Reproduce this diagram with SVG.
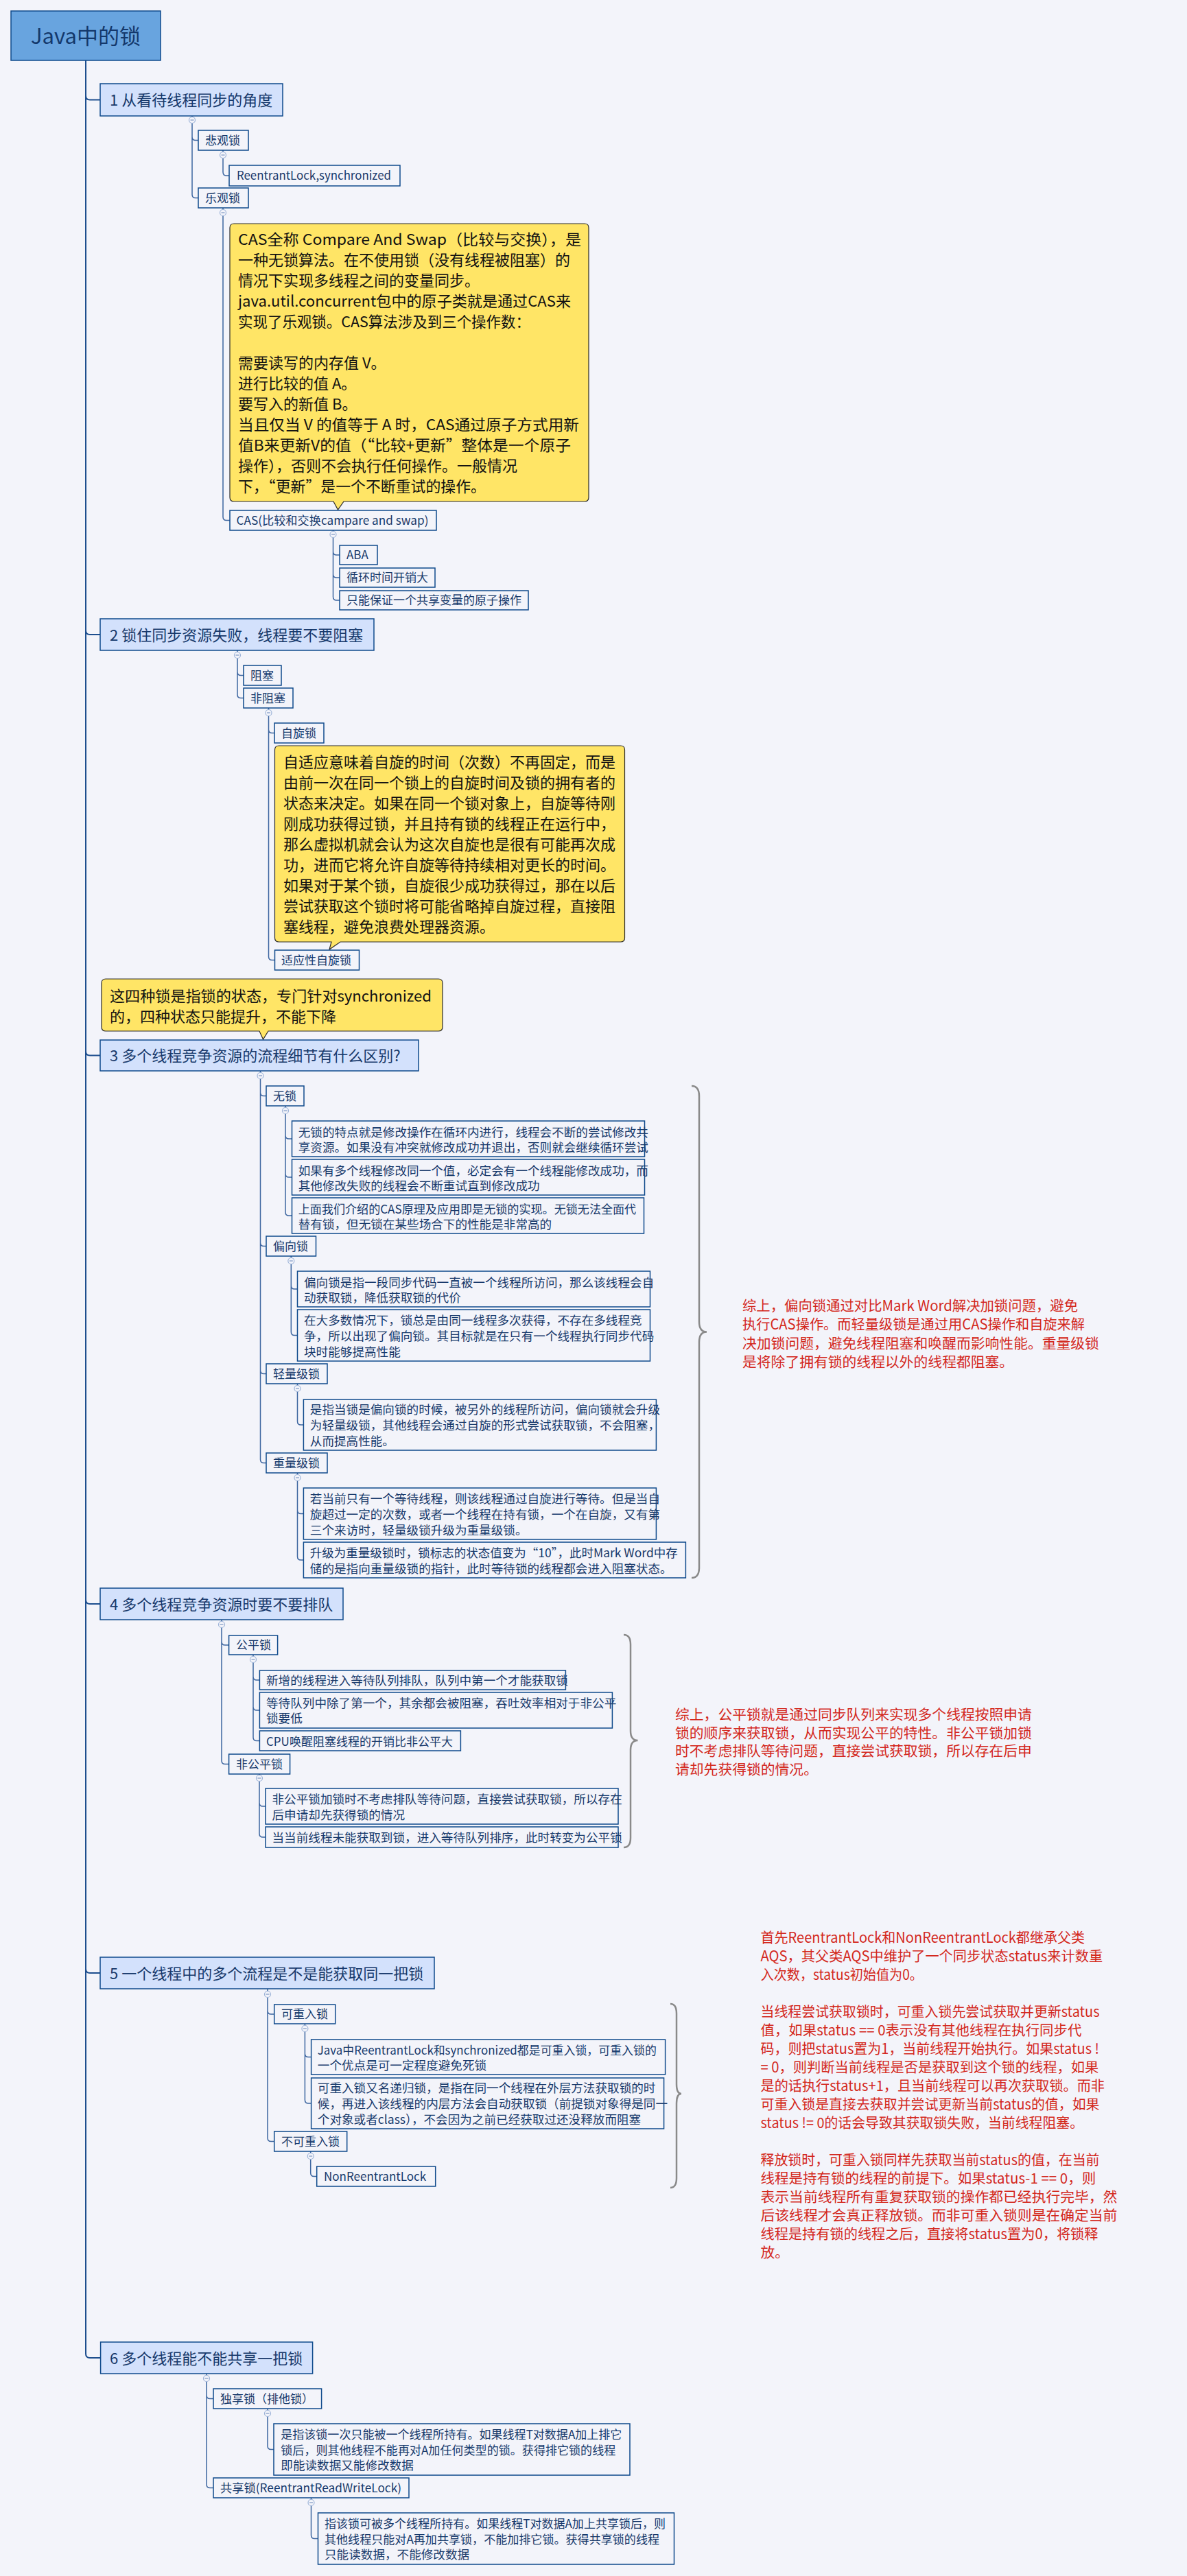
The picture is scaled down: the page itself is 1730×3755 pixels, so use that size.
<svg xmlns="http://www.w3.org/2000/svg" width="1730" height="3755" viewBox="0 0 1730 3755">
<style>
text{font-family:"Noto Sans CJK SC","Microsoft YaHei","Noto Sans",sans-serif;}
.tt{font-size:31px;fill:#14386b;}
.st{font-size:22px;fill:#17396b;}
.nt{font-size:17px;fill:#17396b;}
.dt{font-size:17.6px;fill:#17396b;}
.yt{font-size:22px;fill:#111;}
.rt{font-size:20.8px;fill:#d3281d;}
.box{fill:#f3f4fa;stroke:#0f4a8c;stroke-width:1.5;}
.sec{fill:#d3e1fc;stroke:#0f4a8c;stroke-width:1.5;}
.ttl{fill:#68a4df;stroke:#0f4a8c;stroke-width:1.5;}
.note{fill:#ffe566;stroke:#2a2a2a;stroke-width:1.2;}
.c{fill:none;stroke:#3d66a0;stroke-width:1.5;}
.trunk{fill:none;stroke:#1d4e8e;stroke-width:2;}
.col{fill:#f3f4fa;stroke:#9cb3d8;stroke-width:1.2;}
.colm{stroke:#7f98c4;stroke-width:1.2;}
.brace{fill:none;stroke:#8a8a8a;stroke-width:2.5;}
</style>
<rect x="0" y="0" width="1730" height="3755" fill="#f3f4fa"/>

<g id="connectors">
<path class="trunk" d="M125,88 V3431 Q125,3437 131,3437 H146.6"/>
<path class="trunk" d="M125,139.5 Q125,145.5 131,145.5 H146"/>
<path class="trunk" d="M125,919 Q125,925 131,925 H146"/>
<path class="trunk" d="M125,1532.5 Q125,1538.5 131,1538.5 H146"/>
<path class="trunk" d="M125,2332 Q125,2338 131,2338 H146"/>
<path class="trunk" d="M125,2870 Q125,2876 131,2876 H146"/>
<path class="c" d="M280,169 V170.5 M280,179.5 V283.5 Q280,288.5 285,288.5 H289 M280,199.5 Q280,204.5 285,204.5 H289"/>
<path class="c" d="M325,219 V221.5 M325,230.5 V251 Q325,256 330,256 H334"/>
<path class="c" d="M325,303 V305.5 M325,314.5 V753.5 Q325,758.5 330,758.5 H335"/>
<path class="c" d="M485.5,773 V774.5 M485.5,783.5 V870 Q485.5,875 490.5,875 H495 M485.5,804 Q485.5,809 490.5,809 H495 M485.5,837 Q485.5,842 490.5,842 H495"/>
<path class="c" d="M346,948 V950.5 M346,959.5 V1012.5 Q346,1017.5 351,1017.5 H355 M346,979.5 Q346,984.5 351,984.5 H355"/>
<path class="c" d="M391.5,1032 V1034.5 M391.5,1043.5 V1394.5 Q391.5,1399.5 396.5,1399.5 H400.5 M391.5,1063.5 Q391.5,1068.5 396.5,1068.5 H400"/>
<path class="c" d="M379.5,1561 V1563.5 M379.5,1572.5 V2127.5 Q379.5,2132.5 384.5,2132.5 H388 M379.5,1592.5 Q379.5,1597.5 384.5,1597.5 H388 M379.5,1811.5 Q379.5,1816.5 384.5,1816.5 H388 M379.5,1997.5 Q379.5,2002.5 384.5,2002.5 H388"/>
<path class="c" d="M416,1612 V1614.5 M416,1623.5 V1767 Q416,1772 421,1772 H425.5 M416,1655 Q416,1660 421,1660 H425.5 M416,1711 Q416,1716 421,1716 H425.5"/>
<path class="c" d="M424.3,1831 V1833.5 M424.3,1842.5 V1941.5 Q424.3,1946.5 429.3,1946.5 H433.5 M424.3,1874 Q424.3,1879 429.3,1879 H433.5"/>
<path class="c" d="M433.5,2017 V2019.5 M433.5,2028.5 V2072 Q433.5,2077 438.5,2077 H442.4"/>
<path class="c" d="M433.5,2147 V2149.5 M433.5,2158.5 V2269 Q433.5,2274 438.5,2274 H442.4 M433.5,2201.5 Q433.5,2206.5 438.5,2206.5 H442.4"/>
<path class="c" d="M323,2361 V2363.5 M323,2372.5 V2566.5 Q323,2571.5 328,2571.5 H333.6 M323,2393 Q323,2398 328,2398 H333.6"/>
<path class="c" d="M369,2412 V2414.5 M369,2423.5 V2532.5 Q369,2537.5 374,2537.5 H378.4 M369,2444 Q369,2449 374,2449 H378.4 M369,2488 Q369,2493 374,2493 H378.4"/>
<path class="c" d="M378,2586 V2587.5 M378,2596.5 V2673 Q378,2678 383,2678 H387 M378,2628 Q378,2633 383,2633 H387"/>
<path class="c" d="M390,2899 V2902.5 M390,2911.5 V3116.5 Q390,3121.5 395,3121.5 H399.7 M390,2931 Q390,2936 395,2936 H399.7"/>
<path class="c" d="M444.4,2950 V2952.5 M444.4,2961.5 V3061 Q444.4,3066 449.4,3066 H453.6 M444.4,2993.5 Q444.4,2998.5 449.4,2998.5 H453.6"/>
<path class="c" d="M452.7,3136 V3138.5 M452.7,3147.5 V3167.5 Q452.7,3172.5 457.7,3172.5 H461.7"/>
<path class="c" d="M301,3460 V3462.5 M301,3471.5 V3621.5 Q301,3626.5 306,3626.5 H311 M301,3491.5 Q301,3496.5 306,3496.5 H311"/>
<path class="c" d="M390,3511 V3513.5 M390,3522.5 V3565.5 Q390,3570.5 395,3570.5 H399"/>
<path class="c" d="M453.5,3641 V3643.5 M453.5,3652.5 V3695.5 Q453.5,3700.5 458.5,3700.5 H463.5"/>
</g>

<g id="collapse-markers">
<g><circle class="col" cx="280" cy="175" r="4.5"/><path class="colm" d="M277.5,175 H282.5"/></g>
<g><circle class="col" cx="325" cy="226" r="4.5"/><path class="colm" d="M322.5,226 H327.5"/></g>
<g><circle class="col" cx="325" cy="310" r="4.5"/><path class="colm" d="M322.5,310 H327.5"/></g>
<g><circle class="col" cx="485.5" cy="779" r="4.5"/><path class="colm" d="M483,779 H488"/></g>
<g><circle class="col" cx="346" cy="955" r="4.5"/><path class="colm" d="M343.5,955 H348.5"/></g>
<g><circle class="col" cx="391.5" cy="1039" r="4.5"/><path class="colm" d="M389,1039 H394"/></g>
<g><circle class="col" cx="379.5" cy="1568" r="4.5"/><path class="colm" d="M377,1568 H382"/></g>
<g><circle class="col" cx="416" cy="1619" r="4.5"/><path class="colm" d="M413.5,1619 H418.5"/></g>
<g><circle class="col" cx="424.3" cy="1838" r="4.5"/><path class="colm" d="M421.8,1838 H426.8"/></g>
<g><circle class="col" cx="433.5" cy="2024" r="4.5"/><path class="colm" d="M431,2024 H436"/></g>
<g><circle class="col" cx="433.5" cy="2154" r="4.5"/><path class="colm" d="M431,2154 H436"/></g>
<g><circle class="col" cx="323" cy="2368" r="4.5"/><path class="colm" d="M320.5,2368 H325.5"/></g>
<g><circle class="col" cx="369" cy="2419" r="4.5"/><path class="colm" d="M366.5,2419 H371.5"/></g>
<g><circle class="col" cx="378" cy="2592" r="4.5"/><path class="colm" d="M375.5,2592 H380.5"/></g>
<g><circle class="col" cx="390" cy="2907" r="4.5"/><path class="colm" d="M387.5,2907 H392.5"/></g>
<g><circle class="col" cx="444.4" cy="2957" r="4.5"/><path class="colm" d="M441.9,2957 H446.9"/></g>
<g><circle class="col" cx="452.7" cy="3143" r="4.5"/><path class="colm" d="M450.2,3143 H455.2"/></g>
<g><circle class="col" cx="301" cy="3467" r="4.5"/><path class="colm" d="M298.5,3467 H303.5"/></g>
<g><circle class="col" cx="390" cy="3518" r="4.5"/><path class="colm" d="M387.5,3518 H392.5"/></g>
<g><circle class="col" cx="453.5" cy="3648" r="4.5"/><path class="colm" d="M451,3648 H456"/></g>
</g>

<g id="n-title"><rect class="ttl" x="16" y="16" width="218" height="72"/><text class="tt" x="125" y="64" text-anchor="middle">Java中的锁</text></g>

<g id="n-s1"><rect class="sec" x="146" y="122" width="266" height="47"/><text class="st" x="160" y="154">1 从看待线程同步的角度</text></g>
<g id="n-pessimistic"><rect class="box" x="289" y="190" width="73" height="29"/><text class="nt" x="299" y="210.5">悲观锁</text></g>
<g id="n-reentrant-sync"><rect class="box" x="334" y="241" width="249" height="30"/><text class="nt" x="345" y="262" textLength="225" lengthAdjust="spacingAndGlyphs">ReentrantLock,synchronized</text></g>
<g id="n-optimistic"><rect class="box" x="289" y="274" width="73" height="29"/><text class="nt" x="299" y="294.5">乐观锁</text></g>
<g id="note-cas">
<path class="note" d="M341,326 H852 Q858,326 858,332 V725 Q858,731 852,731 H501 L492.5,743 L486,731 H341 Q335,731 335,725 V332 Q335,326 341,326 Z"/>
<text class="yt" x="347" y="357" textLength="500" lengthAdjust="spacingAndGlyphs">CAS全称 Compare And Swap（比较与交换），是</text>
<text class="yt" x="347" y="387">一种无锁算法。在不使用锁（没有线程被阻塞）的</text>
<text class="yt" x="347" y="417">情况下实现多线程之间的变量同步。</text>
<text class="yt" x="347" y="447" textLength="485" lengthAdjust="spacingAndGlyphs">java.util.concurrent包中的原子类就是通过CAS来</text>
<text class="yt" x="347" y="477" textLength="426" lengthAdjust="spacingAndGlyphs">实现了乐观锁。CAS算法涉及到三个操作数：</text>
<text class="yt" x="347" y="537">需要读写的内存值 V。</text>
<text class="yt" x="347" y="567">进行比较的值 A。</text>
<text class="yt" x="347" y="597">要写入的新值 B。</text>
<text class="yt" x="347" y="627" textLength="497" lengthAdjust="spacingAndGlyphs">当且仅当 V 的值等于 A 时，CAS通过原子方式用新</text>
<text class="yt" x="347" y="657" textLength="485" lengthAdjust="spacingAndGlyphs">值B来更新V的值（“比较+更新”整体是一个原子</text>
<text class="yt" x="347" y="687">操作），否则不会执行任何操作。一般情况</text>
<text class="yt" x="347" y="717" textLength="361" lengthAdjust="spacingAndGlyphs">下，“更新”是一个不断重试的操作。</text>
</g>
<g id="n-cas"><rect class="box" x="335" y="744" width="301" height="29"/><text class="nt" x="344.5" y="764.5" textLength="280" lengthAdjust="spacingAndGlyphs">CAS(比较和交换campare and swap)</text></g>
<g id="n-aba"><rect class="box" x="495" y="795" width="55" height="28"/><text class="nt" x="505" y="815">ABA</text></g>
<g id="n-loop"><rect class="box" x="495" y="828" width="139" height="28"/><text class="nt" x="505" y="848">循环时间开销大</text></g>
<g id="n-onevar"><rect class="box" x="495" y="861" width="275" height="28"/><text class="nt" x="505" y="881">只能保证一个共享变量的原子操作</text></g>

<g id="n-s2"><rect class="sec" x="146" y="902" width="399" height="46"/><text class="st" x="160" y="933.5">2 锁住同步资源失败，线程要不要阻塞</text></g>
<g id="n-block"><rect class="box" x="355" y="970" width="55" height="29"/><text class="nt" x="365" y="990.5">阻塞</text></g>
<g id="n-nonblock"><rect class="box" x="355" y="1003" width="72" height="29"/><text class="nt" x="365" y="1023.5">非阻塞</text></g>
<g id="n-spin"><rect class="box" x="400" y="1054" width="72" height="29"/><text class="nt" x="410" y="1074.5">自旋锁</text></g>
<g id="note-adaptive">
<path class="note" d="M406.5,1087 H904.5 Q910.5,1087 910.5,1093 V1367 Q910.5,1373 904.5,1373 H496 L480,1384 L483,1373 H406.5 Q400.5,1373 400.5,1367 V1093 Q400.5,1087 406.5,1087 Z"/>
<text class="yt" x="413" y="1119">自适应意味着自旋的时间（次数）不再固定，而是</text>
<text class="yt" x="413" y="1149">由前一次在同一个锁上的自旋时间及锁的拥有者的</text>
<text class="yt" x="413" y="1179">状态来决定。如果在同一个锁对象上，自旋等待刚</text>
<text class="yt" x="413" y="1209">刚成功获得过锁，并且持有锁的线程正在运行中，</text>
<text class="yt" x="413" y="1239">那么虚拟机就会认为这次自旋也是很有可能再次成</text>
<text class="yt" x="413" y="1269">功，进而它将允许自旋等待持续相对更长的时间。</text>
<text class="yt" x="413" y="1299">如果对于某个锁，自旋很少成功获得过，那在以后</text>
<text class="yt" x="413" y="1329">尝试获取这个锁时将可能省略掉自旋过程，直接阻</text>
<text class="yt" x="413" y="1359">塞线程，避免浪费处理器资源。</text>
</g>
<g id="n-adaptive"><rect class="box" x="400.5" y="1385" width="123" height="29"/><text class="nt" x="410" y="1405.5">适应性自旋锁</text></g>

<g id="note-states">
<path class="note" d="M154,1427 H639 Q645,1427 645,1433 V1497 Q645,1503 639,1503 H391 L383.5,1515 L378,1503 H154 Q148,1503 148,1497 V1433 Q148,1427 154,1427 Z"/>
<text class="yt" x="160" y="1460" textLength="469" lengthAdjust="spacingAndGlyphs">这四种锁是指锁的状态，专门针对synchronized</text>
<text class="yt" x="160" y="1490">的，四种状态只能提升，不能下降</text>
</g>
<g id="n-s3"><rect class="sec" x="146" y="1516" width="464" height="45"/><text class="st" x="160" y="1547">3 多个线程竞争资源的流程细节有什么区别?</text></g>
<g id="n-nolock"><rect class="box" x="388" y="1583" width="55" height="29"/><text class="nt" x="398" y="1603.5">无锁</text></g>
<g id="n-nolock-a"><rect class="box" x="425.5" y="1634" width="514" height="52"/>
<text class="dt" x="434.7" y="1656.5">无锁的特点就是修改操作在循环内进行，线程会不断的尝试修改共</text>
<text class="dt" x="434.7" y="1678.5">享资源。如果没有冲突就修改成功并退出，否则就会继续循环尝试</text></g>
<g id="n-nolock-b"><rect class="box" x="425.5" y="1690" width="514" height="52"/>
<text class="dt" x="434.7" y="1712.5">如果有多个线程修改同一个值，必定会有一个线程能修改成功，而</text>
<text class="dt" x="434.7" y="1734.5">其他修改失败的线程会不断重试直到修改成功</text></g>
<g id="n-nolock-c"><rect class="box" x="425.5" y="1746" width="513" height="52"/>
<text class="dt" x="434.7" y="1768.5" textLength="492.5" lengthAdjust="spacingAndGlyphs">上面我们介绍的CAS原理及应用即是无锁的实现。无锁无法全面代</text>
<text class="dt" x="434.7" y="1790.5">替有锁，但无锁在某些场合下的性能是非常高的</text></g>
<g id="n-biased"><rect class="box" x="388" y="1802" width="72.5" height="29"/><text class="nt" x="398" y="1822.5">偏向锁</text></g>
<g id="n-biased-a"><rect class="box" x="433.5" y="1853" width="514" height="52"/>
<text class="dt" x="443" y="1875.5">偏向锁是指一段同步代码一直被一个线程所访问，那么该线程会自</text>
<text class="dt" x="443" y="1897.5">动获取锁，降低获取锁的代价</text></g>
<g id="n-biased-b"><rect class="box" x="433.5" y="1909" width="514" height="75"/>
<text class="dt" x="443" y="1930.5">在大多数情况下，锁总是由同一线程多次获得，不存在多线程竞</text>
<text class="dt" x="443" y="1953.5">争，所以出现了偏向锁。其目标就是在只有一个线程执行同步代码</text>
<text class="dt" x="443" y="1976.5">块时能够提高性能</text></g>
<g id="n-light"><rect class="box" x="388" y="1988" width="89" height="29"/><text class="nt" x="398" y="2008.5">轻量级锁</text></g>
<g id="n-light-a"><rect class="box" x="442.4" y="2040" width="514" height="74"/>
<text class="dt" x="451.8" y="2061">是指当锁是偏向锁的时候，被另外的线程所访问，偏向锁就会升级</text>
<text class="dt" x="451.8" y="2084">为轻量级锁，其他线程会通过自旋的形式尝试获取锁，不会阻塞，</text>
<text class="dt" x="451.8" y="2106.5">从而提高性能。</text></g>
<g id="n-heavy"><rect class="box" x="388" y="2118" width="89" height="29"/><text class="nt" x="398" y="2138.5">重量级锁</text></g>
<g id="n-heavy-a"><rect class="box" x="442.4" y="2169" width="514" height="75"/>
<text class="dt" x="451.8" y="2191">若当前只有一个等待线程，则该线程通过自旋进行等待。但是当自</text>
<text class="dt" x="451.8" y="2214">旋超过一定的次数，或者一个线程在持有锁，一个在自旋，又有第</text>
<text class="dt" x="451.8" y="2236.5">三个来访时，轻量级锁升级为重量级锁。</text></g>
<g id="n-heavy-b"><rect class="box" x="442.4" y="2248" width="557" height="52"/>
<text class="dt" x="451.8" y="2270" textLength="536" lengthAdjust="spacingAndGlyphs">升级为重量级锁时，锁标志的状态值变为“10”，此时Mark Word中存</text>
<text class="dt" x="451.8" y="2292.5">储的是指向重量级锁的指针，此时等待锁的线程都会进入阻塞状态。</text></g>

<g id="n-s4"><rect class="sec" x="146" y="2315" width="354" height="46"/><text class="st" x="160" y="2346.5">4 多个线程竞争资源时要不要排队</text></g>
<g id="n-fair"><rect class="box" x="333.6" y="2384" width="71" height="28"/><text class="nt" x="344" y="2404">公平锁</text></g>
<g id="n-fair-a"><rect class="box" x="378.4" y="2435" width="446" height="28"/>
<text class="dt" x="388" y="2455.5">新增的线程进入等待队列排队，队列中第一个才能获取锁</text></g>
<g id="n-fair-b"><rect class="box" x="378.4" y="2467" width="514" height="52"/>
<text class="dt" x="388" y="2489">等待队列中除了第一个，其余都会被阻塞，吞吐效率相对于非公平</text>
<text class="dt" x="388" y="2511">锁要低</text></g>
<g id="n-fair-c"><rect class="box" x="378.4" y="2523" width="293" height="29"/>
<text class="dt" x="388" y="2544.5" textLength="272" lengthAdjust="spacingAndGlyphs">CPU唤醒阻塞线程的开销比非公平大</text></g>
<g id="n-unfair"><rect class="box" x="333.6" y="2557" width="89" height="29"/><text class="nt" x="344" y="2577.5">非公平锁</text></g>
<g id="n-unfair-a"><rect class="box" x="387" y="2607" width="514" height="52"/>
<text class="dt" x="396.5" y="2629">非公平锁加锁时不考虑排队等待问题，直接尝试获取锁，所以存在</text>
<text class="dt" x="396.5" y="2651.5">后申请却先获得锁的情况</text></g>
<g id="n-unfair-b"><rect class="box" x="387" y="2663" width="514" height="30"/>
<text class="dt" x="396.5" y="2684.5">当当前线程未能获取到锁，进入等待队列排序，此时转变为公平锁</text></g>

<g id="n-s5"><rect class="sec" x="146" y="2853" width="487" height="46"/><text class="st" x="160" y="2884.5">5 一个线程中的多个流程是不是能获取同一把锁</text></g>
<g id="n-reentrant"><rect class="box" x="399.7" y="2922" width="89" height="28"/><text class="nt" x="410" y="2942">可重入锁</text></g>
<g id="n-reentrant-a"><rect class="box" x="453.6" y="2973" width="516" height="51"/>
<text class="dt" x="462.8" y="2994.5" textLength="494" lengthAdjust="spacingAndGlyphs">Java中ReentrantLock和synchronized都是可重入锁，可重入锁的</text>
<text class="dt" x="462.8" y="3017">一个优点是可一定程度避免死锁</text></g>
<g id="n-reentrant-b"><rect class="box" x="453.6" y="3029" width="514" height="74"/>
<text class="dt" x="462.8" y="3050">可重入锁又名递归锁，是指在同一个线程在外层方法获取锁的时</text>
<text class="dt" x="462.8" y="3073">候，再进入该线程的内层方法会自动获取锁（前提锁对象得是同一</text>
<text class="dt" x="462.8" y="3096">个对象或者class），不会因为之前已经获取过还没释放而阻塞</text></g>
<g id="n-nonreentrant"><rect class="box" x="399.7" y="3107" width="106" height="29"/><text class="nt" x="410" y="3127.5">不可重入锁</text></g>
<g id="n-nonreentrantlock"><rect class="box" x="461.7" y="3158" width="173" height="29"/><text class="nt" x="472" y="3178.5">NonReentrantLock</text></g>

<g id="n-s6"><rect class="sec" x="146.6" y="3414" width="309" height="46"/><text class="st" x="160" y="3445.5">6 多个线程能不能共享一把锁</text></g>
<g id="n-exclusive"><rect class="box" x="311" y="3482" width="157.6" height="29"/><text class="nt" x="321" y="3502.5">独享锁（排他锁）</text></g>
<g id="n-exclusive-a"><rect class="box" x="399" y="3533" width="519" height="75"/>
<text class="dt" x="409.3" y="3555" textLength="497" lengthAdjust="spacingAndGlyphs">是指该锁一次只能被一个线程所持有。如果线程T对数据A加上排它</text>
<text class="dt" x="409.3" y="3577.5" textLength="488" lengthAdjust="spacingAndGlyphs">锁后，则其他线程不能再对A加任何类型的锁。获得排它锁的线程</text>
<text class="dt" x="409.3" y="3600">即能读数据又能修改数据</text></g>
<g id="n-shared"><rect class="box" x="311" y="3612" width="285" height="29"/><text class="nt" x="321" y="3632.5" textLength="264" lengthAdjust="spacingAndGlyphs">共享锁(ReentrantReadWriteLock)</text></g>
<g id="n-shared-a"><rect class="box" x="463.5" y="3663" width="519" height="75"/>
<text class="dt" x="473" y="3685" textLength="497" lengthAdjust="spacingAndGlyphs">指该锁可被多个线程所持有。如果线程T对数据A加上共享锁后，则</text>
<text class="dt" x="473" y="3707.5" textLength="488" lengthAdjust="spacingAndGlyphs">其他线程只能对A再加共享锁，不能加排它锁。获得共享锁的线程</text>
<text class="dt" x="473" y="3730">只能读数据，不能修改数据</text></g>

<g id="summary-s3">
<path class="brace" d="M1008,1583 Q1019,1583 1019,1598 L1019,1926.5 Q1019,1941.5 1030,1941.5 Q1019,1941.5 1019,1956.5 L1019,2285 Q1019,2300 1008,2300"/>
<text class="rt" x="1082" y="1910.5" textLength="489" lengthAdjust="spacingAndGlyphs">综上，偏向锁通过对比Mark Word解决加锁问题，避免</text>
<text class="rt" x="1082" y="1938" textLength="499" lengthAdjust="spacingAndGlyphs">执行CAS操作。而轻量级锁是通过用CAS操作和自旋来解</text>
<text class="rt" x="1082" y="1965.5">决加锁问题，避免线程阻塞和唤醒而影响性能。重量级锁</text>
<text class="rt" x="1082" y="1992.5">是将除了拥有锁的线程以外的线程都阻塞。</text>
</g>
<g id="summary-s4">
<path class="brace" d="M909,2383 Q919,2383 919,2397 L919,2523 Q919,2537 929.5,2537 Q919,2537 919,2551 L919,2679 Q919,2693 909,2693"/>
<text class="rt" x="984" y="2507">综上，公平锁就是通过同步队列来实现多个线程按照申请</text>
<text class="rt" x="984" y="2533.5">锁的顺序来获取锁，从而实现公平的特性。非公平锁加锁</text>
<text class="rt" x="984" y="2560">时不考虑排队等待问题，直接尝试获取锁，所以存在后申</text>
<text class="rt" x="984" y="2586.5">请却先获得锁的情况。</text>
</g>
<g id="summary-s5">
<path class="brace" d="M977,2921 Q986,2921 986,2935 L986,3038 Q986,3052 993,3052 Q986,3052 986,3066 L986,3175 Q986,3189 977,3189"/>
<text class="rt" x="1108.5" y="2832" textLength="472.5" lengthAdjust="spacingAndGlyphs">首先ReentrantLock和NonReentrantLock都继承父类</text>
<text class="rt" x="1108.5" y="2859" textLength="498.6" lengthAdjust="spacingAndGlyphs">AQS，其父类AQS中维护了一个同步状态status来计数重</text>
<text class="rt" x="1108.5" y="2886" textLength="236.5" lengthAdjust="spacingAndGlyphs">入次数，status初始值为0。</text>
<text class="rt" x="1108.5" y="2940" textLength="494" lengthAdjust="spacingAndGlyphs">当线程尝试获取锁时，可重入锁先尝试获取并更新status</text>
<text class="rt" x="1108.5" y="2967" textLength="467.8" lengthAdjust="spacingAndGlyphs">值，如果status == 0表示没有其他线程在执行同步代</text>
<text class="rt" x="1108.5" y="2994" textLength="493.5" lengthAdjust="spacingAndGlyphs">码，则把status置为1，当前线程开始执行。如果status !</text>
<text class="rt" x="1108.5" y="3021" textLength="492.7" lengthAdjust="spacingAndGlyphs">= 0，则判断当前线程是否是获取到这个锁的线程，如果</text>
<text class="rt" x="1108.5" y="3048" textLength="501.4" lengthAdjust="spacingAndGlyphs">是的话执行status+1，且当前线程可以再次获取锁。而非</text>
<text class="rt" x="1108.5" y="3075" textLength="494" lengthAdjust="spacingAndGlyphs">可重入锁是直接去获取并尝试更新当前status的值，如果</text>
<text class="rt" x="1108.5" y="3102" textLength="470.5" lengthAdjust="spacingAndGlyphs">status != 0的话会导致其获取锁失败，当前线程阻塞。</text>
<text class="rt" x="1108.5" y="3156" textLength="494" lengthAdjust="spacingAndGlyphs">释放锁时，可重入锁同样先获取当前status的值，在当前</text>
<text class="rt" x="1108.5" y="3183" textLength="488.7" lengthAdjust="spacingAndGlyphs">线程是持有锁的线程的前提下。如果status-1 == 0，则</text>
<text class="rt" x="1108.5" y="3210">表示当前线程所有重复获取锁的操作都已经执行完毕，然</text>
<text class="rt" x="1108.5" y="3237">后该线程才会真正释放锁。而非可重入锁则是在确定当前</text>
<text class="rt" x="1108.5" y="3264" textLength="492" lengthAdjust="spacingAndGlyphs">线程是持有锁的线程之后，直接将status置为0，将锁释</text>
<text class="rt" x="1108.5" y="3291">放。</text>
</g>
</svg>
